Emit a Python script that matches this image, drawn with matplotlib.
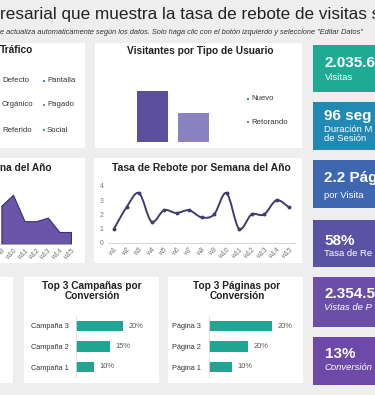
import matplotlib
matplotlib.use("Agg")
import matplotlib.pyplot as plt
from matplotlib.patches import Rectangle
from matplotlib.path import Path
from matplotlib.patches import PathPatch

plt.rcParams['font.family'] = ['Liberation Sans', 'DejaVu Sans']

# ---------------- data ----------------
title_text = "resarial que muestra la tasa de rebote de visitas s"
subtitle_text = ('e actualiza automaticamente según los datos. Solo haga clic con el botón '
                 'izquierdo y seleccione "Editar Datos"')

traffic_left = ["Defecto", "Orgánico", "Referido"]
traffic_right = ["Pantalla", "Pagado", "Social"]
traffic_right_colors = ["#2f9aa6", "#8a8a9a", "#2aa590"]

user_types = ["Nuevo", "Retorando"]
user_values = [1250, 710]
user_colors = ["#5b4f9e", "#8b82c2"]
user_marker_colors = ["#3a8fa8", "#7f7aa6"]

area_weeks = ["w9", "w10", "w11", "w12", "w13", "w14", "w15"]
area_values = [3.2, 4.1, 1.9, 1.9, 2.2, 1.0, 1.0]

bounce_weeks = ["w1", "w2", "w3", "w4", "w5", "w6", "w7", "w8", "w9", "w10",
                "w11", "w12", "w13", "w14", "w15"]
bounce_values = [1.0, 2.5, 3.5, 1.5, 2.3, 2.1, 2.3, 1.8, 2.0, 3.5, 1.0, 2.0, 2.0, 3.0, 2.5]

campaigns = ["Campaña 1", "Campaña 2", "Campaña 3"]
campaign_values = [7.7, 14.5, 20]
campaign_labels = ["10%", "15%", "20%"]

pages = ["Página 1", "Página 2", "Página 3"]
page_values = [7.3, 12.4, 20]
page_labels = ["10%", "20%", "20%"]

kpi_values = ["2.035.68", "96 seg", "2.2 Pág", "58%", "2.354.5", "13%"]
kpi_labels = ["Visitas", "Duración M\nde Sesión", "por Visita", "Tasa de Re",
              "Vistas de P", "Conversión"]
kpi_italic = [False, False, False, False, True, True]
kpi_colors = ["#1fab93", "#2189b3", "#3d67b0", "#5a52a5", "#6a4ea8", "#6e4aa8"]

# ---------------- layout helpers ----------------
W, H = 375, 395
fig = plt.figure(figsize=(W / 100, H / 100), dpi=100)
fig.patch.set_facecolor("#eeeeee")


def fx(x):
    return x / W


def fy(y):
    return 1 - y / H


def panel(x0, y0, x1, y1, color="white"):
    fig.patches.append(Rectangle((fx(x0), fy(y1)), (x1 - x0) / W, (y1 - y0) / H,
                                 transform=fig.transFigure, facecolor=color,
                                 edgecolor="none", zorder=-5))


def add_ax(x0, y0, x1, y1):
    ax = fig.add_axes([fx(x0), fy(y1), (x1 - x0) / W, (y1 - y0) / H])
    ax.set_facecolor("none")
    ax.set_zorder(2)
    return ax


TXT = "#333333"
GRAY = "#777777"

# ---------------- header ----------------
fig.text(fx(0), fy(19), title_text, fontsize=12.3, color="#222222", va="baseline", ha="left")
fig.text(fx(0), fy(32), subtitle_text, fontsize=5.3, color="#333333", style="italic",
         va="center", ha="left")

# ---------------- panels ----------------
panel(0, 43, 85, 148)
panel(95, 43, 302, 148)
panel(0, 158, 85, 263)
panel(94, 158, 302, 263)
panel(0, 277, 13, 383)
panel(24, 277, 159, 383)
panel(168, 277, 303, 383)

# ---------------- Tráfico legend ----------------
fig.text(fx(0), fy(50), "Tráfico", fontsize=7.3, fontweight="bold", color="#222222",
         va="center", ha="left")
rows_y = [81, 105, 130]
for name, yy in zip(traffic_left, rows_y):
    fig.text(fx(2), fy(yy), name, fontsize=5.6, color=TXT, va="center", ha="left")
for name, col, yy in zip(traffic_right, traffic_right_colors, rows_y):
    fig.patches.append(Rectangle((fx(42.5), fy(yy + 1)), 2 / W, 2 / H,
                                 transform=fig.transFigure, facecolor=col,
                                 edgecolor="none"))
    fig.text(fx(47), fy(yy), name, fontsize=5.6, color=TXT, va="center", ha="left")

# ---------------- Visitantes por Tipo de Usuario ----------------
fig.text(fx(200.5), fy(51), "Visitantes por Tipo de Usuario", fontsize=7.3,
         fontweight="bold", color="#222222", va="center", ha="center")
axu = add_ax(119.7, 81, 226.3, 142)
axu.bar(range(len(user_values)), user_values, width=0.76, color=user_colors)
axu.set_xlim(-0.8, 1.8)
axu.set_ylim(0, 1500)
axu.axis("off")
for name, col, yy in zip(user_types, user_marker_colors, [99, 122]):
    fig.patches.append(Rectangle((fx(247), fy(yy + 1)), 2 / W, 2 / H,
                                 transform=fig.transFigure, facecolor=col,
                                 edgecolor="none"))
    fig.text(fx(251), fy(yy), name, fontsize=5.6, color=TXT, va="center", ha="left")

# ---------------- area chart (Visitas por Semana) ----------------
fig.text(fx(0), fy(168), "na del Año", fontsize=7.3, fontweight="bold", color="#222222",
         va="center", ha="left")
axa = add_ax(0, 184, 71, 244)
xa = list(range(9, 9 + len(area_values)))
axa.fill_between(xa, area_values, 0, color="#6a56a8", edgecolor="#3a2f70", linewidth=0.8)
axa.set_xlim(8.88, 15)
axa.set_ylim(0, 5)
for s in ["top", "right", "left"]:
    axa.spines[s].set_visible(False)
axa.spines["bottom"].set_color("#bbbbbb")
axa.spines["bottom"].set_linewidth(0.6)
axa.set_yticks([])
axa.set_xticks(xa)
axa.set_xticklabels(area_weeks, rotation=45, ha="right", rotation_mode="anchor",
                    fontsize=4.9, color=GRAY)
axa.tick_params(axis="x", length=0, pad=2.5)

# ---------------- line chart (Tasa de Rebote) ----------------
fig.text(fx(201), fy(168), "Tasa de Rebote por Semana del Año", fontsize=7.5,
         fontweight="bold", color="#222222", va="center", ha="center")
axl = add_ax(107.75, 186, 295.25, 243)
xl = list(range(1, len(bounce_values) + 1))
pts = list(zip(xl, bounce_values))
verts = [pts[0]]
codes = [Path.MOVETO]
n = len(pts)
for i in range(n - 1):
    p0 = pts[i - 1] if i > 0 else pts[i]
    p1 = pts[i]
    p2 = pts[i + 1]
    p3 = pts[i + 2] if i + 2 < n else pts[i + 1]
    c1 = (p1[0] + (p2[0] - p0[0]) / 6, p1[1] + (p2[1] - p0[1]) / 6)
    c2 = (p2[0] - (p3[0] - p1[0]) / 6, p2[1] - (p3[1] - p1[1]) / 6)
    verts += [c1, c2, p2]
    codes += [Path.CURVE4, Path.CURVE4, Path.CURVE4]
axl.add_patch(PathPatch(Path(verts, codes), facecolor="none", edgecolor="#3f3c6e",
                        linewidth=1.4))
axl.plot(xl, bounce_values, linestyle="none", marker="o", markersize=1.8,
         color="#3f3c6e")
axl.set_xlim(0.5, 15.5)
axl.set_ylim(0, 4)
for s in ["top", "right", "left"]:
    axl.spines[s].set_visible(False)
axl.spines["bottom"].set_color("#cccccc")
axl.spines["bottom"].set_linewidth(0.6)
axl.set_yticks([0, 1, 2, 3, 4])
axl.set_yticklabels(["0", "1", "2", "3", "4"], fontsize=4.9, color=GRAY)
axl.tick_params(axis="y", length=0, pad=3)
axl.set_xticks(xl)
axl.set_xticklabels(bounce_weeks, rotation=45, ha="right", rotation_mode="anchor",
                    fontsize=4.9, color=GRAY)
axl.tick_params(axis="x", length=0, pad=2.5)


# ---------------- horizontal bar charts ----------------
def hbar(x_left, x_right, names, values, labels, title_cx, title):
    fig.text(fx(title_cx), fy(291), title, fontsize=7.3, fontweight="bold",
             color="#222222", va="center", ha="center", linespacing=1.0)
    ax = add_ax(x_left, 315.75, x_right, 377.25)
    ypos = list(range(len(values)))
    ax.barh(ypos, values, height=0.5, color="#1fa592")
    ax.set_xlim(0, 30)
    ax.set_ylim(-0.5, 2.5)
    for s in ["top", "right", "bottom"]:
        ax.spines[s].set_visible(False)
    ax.spines["left"].set_color("#dddddd")
    ax.spines["left"].set_linewidth(0.6)
    ax.set_xticks([])
    ax.set_yticks(ypos)
    ax.set_yticklabels(names, fontsize=5.3, color=TXT)
    ax.tick_params(axis="y", length=0, pad=5.5)
    for y, v, lab in zip(ypos, values, labels):
        ax.annotate(lab, (v, y), xytext=(4, 0), textcoords="offset points",
                    fontsize=5.4, color="#555555", va="center", ha="left")
    return ax


hbar(76, 146.5, campaigns, campaign_values, campaign_labels, 92,
     "Top 3 Campañas por\nConversión")
hbar(209, 303.5, pages, page_values, page_labels, 237,
     "Top 3 Páginas por\nConversión")

# ---------------- KPI tiles ----------------
tiles_y = [(45, 92), (102, 150), (160, 208), (220, 267), (277, 327), (337, 385)]
val_base = [67, 120, 182, 245, 298, 358]
lab_y = [77, 134, 195, 253, 307, 367]
for (y0, y1), col, val, lab, it, vb, ly in zip(tiles_y, kpi_colors, kpi_values, kpi_labels,
                                               kpi_italic, val_base, lab_y):
    panel(313, y0, 376, y1, col)
    fig.text(fx(324.5), fy(vb), val, fontsize=11, fontweight="bold", color="white",
             va="baseline", ha="left")
    fig.text(fx(324.5), fy(ly), lab, fontsize=6.8, color="white", va="center", ha="left",
             style="italic" if it else "normal", linespacing=0.95)

fig.savefig("out.png", dpi=100, facecolor=fig.get_facecolor())
